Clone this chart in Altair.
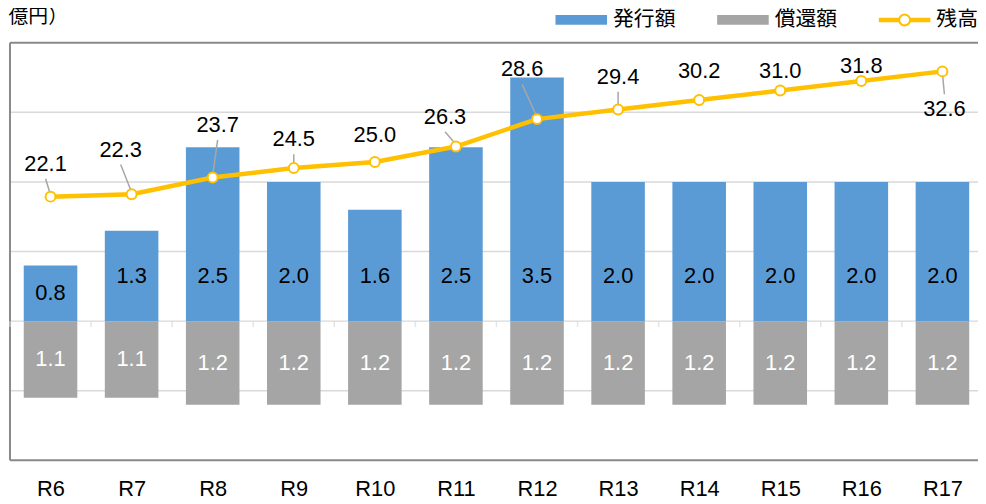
import json
import math
import altair as alt
import pandas as pd

# ---- data ----
categories = ["R6", "R7", "R8", "R9", "R10", "R11", "R12", "R13", "R14", "R15", "R16", "R17"]
issue = [0.8, 1.3, 2.5, 2.0, 1.6, 2.5, 3.5, 2.0, 2.0, 2.0, 2.0, 2.0]        # 発行額
redeem = [1.1, 1.1, 1.2, 1.2, 1.2, 1.2, 1.2, 1.2, 1.2, 1.2, 1.2, 1.2]       # 償還額
balance = [22.1, 22.3, 23.7, 24.5, 25.0, 26.3, 28.6, 29.4, 30.2, 31.0, 31.8, 32.6]  # 残高
series = ["発行額", "償還額", "残高"]
unit_label = "億円）"
grid_values = [-1, 0, 1, 2, 3]
frame_values = [-2, 4]

# ---- styling / layout (not data) ----
BLUE, GREY, GOLD = "#5b9bd5", "#a5a5a5", "#ffc000"
NUM_FONT = "Liberation Sans"
JP_FONT = "Noto Sans CJK JP"
W, H = 976, 421
STEP = 981 / len(categories)       # category step; the plot runs past the right edge as in the reference
PX_PER_UNIT_R = H / 35.0
label_dx = [-5, -11, 5, 0, 0, -11, -15, 0, 0, 0, 0, 2]
label_dy = [-33, -45, -53, -29, -27, -30, -50, -33, -29, -20, -15, 38]
leader = [1, 1, 1, 1, 0, 1, 1, 1, 0, 0, 0, 1]

df = pd.DataFrame({
    "cat": categories,
    "idx": list(range(len(categories))),
    "issue": issue,
    "redeem": redeem,
    "balance": balance,
    "ldx": label_dx,
    "ldy": label_dy,
    "leader": leader,
})

xscale = alt.Scale(domain=[-0.5, -0.5 + W / STEP], nice=False, zero=False, padding=0)
yL = alt.Scale(domain=[-2, 4], nice=False, zero=False, padding=0)
yR = alt.Scale(domain=[0, 35], nice=False, zero=False, padding=0)

label_expr = "[" + ",".join(json.dumps(c) for c in categories) + "][datum.value]"
x_axis_main = alt.Axis(values=list(range(len(categories))), labelExpr=label_expr, ticks=False,
                       domain=False, grid=False, title=None, labelFont=NUM_FONT,
                       labelFontSize=22, labelColor="#000000", labelPadding=18, labelFlush=False,
                       labelOverlap=False)
# the unit caption sits at the top-left, as the (horizontal) title of the left value axis
y_axis_unit = alt.Axis(title=unit_label, titleAngle=0, titleX=-2, titleY=-26, titleAlign="left",
                       titleBaseline="middle", titleFont=JP_FONT, titleFontSize=20,
                       titleFontWeight="normal", titleColor="#000000",
                       labels=False, ticks=False, domain=False, grid=False)


def xq(field):
    # every layer carries the same x-axis definition so the shared axis merges cleanly
    return alt.X(field, type="quantitative", scale=xscale, axis=x_axis_main)


X = xq("idx")
base = alt.Chart(df)

# frame and grid lines
grid = alt.Chart(pd.DataFrame({"g": grid_values})).mark_rule(color="#d9d9d9", strokeWidth=1.5).encode(
    y=alt.Y("g:Q", scale=yL, axis=y_axis_unit)
)
frame_h = alt.Chart(pd.DataFrame({"g": frame_values})).mark_rule(color="#898989", strokeWidth=2).encode(
    y=alt.Y("g:Q", scale=yL, axis=None)
)
frame_v = alt.Chart(pd.DataFrame({"y0": [frame_values[0]], "y1": [frame_values[1]], "x0": [-0.5]})).mark_rule(
    color="#898989", strokeWidth=2
).encode(x=xq("x0"), y=alt.Y("y0:Q", scale=yL, axis=None), y2="y1:Q")

blue = base.mark_bar(size=54, color=BLUE).encode(x=X, y=alt.Y("issue:Q", scale=yL, axis=None))
grey = base.transform_calculate(neg="-datum.redeem").mark_bar(size=54, color=GREY).encode(
    x=X, y=alt.Y("neg:Q", scale=yL, axis=None)
)
zero_ticks = base.transform_calculate(tx="datum.idx - 0.5", z="0").mark_tick(
    orient="vertical", size=6, thickness=1.5, color="#d9d9d9", yOffset=3
).encode(x=xq("tx"), y=alt.Y("z:Q", scale=yL, axis=None))
blue_txt = base.transform_calculate(ty="min(datum.issue / 2, 0.65)").mark_text(
    font=NUM_FONT, fontSize=22, color="#000000", baseline="middle"
).encode(x=X, y=alt.Y("ty:Q", scale=yL, axis=None), text=alt.Text("issue:Q", format=".1f"))
grey_txt = base.transform_calculate(ty="-datum.redeem / 2").mark_text(
    font=NUM_FONT, fontSize=22, color="#ffffff", baseline="middle"
).encode(x=X, y=alt.Y("ty:Q", scale=yL, axis=None), text=alt.Text("redeem:Q", format=".1f"))

lab = base.transform_calculate(
    lx=f"datum.idx + datum.ldx / {STEP}",
    ly=f"datum.balance - datum.ldy / {PX_PER_UNIT_R}",
)
line = base.mark_line(color=GOLD, strokeWidth=4.5).encode(x=X, y=alt.Y("balance:Q", scale=yR, axis=None))
pts = base.mark_point(shape="circle", filled=True, fill="#ffffff", stroke=GOLD, strokeWidth=2,
                      size=100, opacity=1).encode(x=X, y=alt.Y("balance:Q", scale=yR, axis=None))
leaders = lab.transform_filter("datum.leader == 1").transform_calculate(
    y_lab=f"datum.ldy < 0 ? datum.ly - {15 / PX_PER_UNIT_R} : datum.ly + {15 / PX_PER_UNIT_R}",
    y_pt=f"datum.ldy < 0 ? datum.balance + {2 / PX_PER_UNIT_R} : datum.balance - {2 / PX_PER_UNIT_R}",
).mark_rule(color="#a6a6a6", strokeWidth=1.5).encode(
    x=xq("lx"), x2="idx:Q",
    y=alt.Y("y_lab:Q", scale=yR, axis=None), y2="y_pt:Q",
)
line_txt = lab.mark_text(font=NUM_FONT, fontSize=22, color="#000000", baseline="middle").encode(
    x=xq("lx"), y=alt.Y("ly:Q", scale=yR, axis=None),
    text=alt.Text("balance:Q", format=".1f"),
)

# legend symbols (unit square -1..1 is sqrt(symbolSize) px wide)
def ring(r, ccw=False, n=28):
    p = []
    for k in range(n):
        a = 2 * math.pi * k / n * (-1 if ccw else 1)
        p.append(f"{r * math.cos(a):.4f},{r * math.sin(a):.4f}")
    return "M" + "L".join(p) + "Z"

rect_path = "M-1,-0.19H1V0.19H-1Z"
hw = 0.087
line_path = (f"M-1,-{hw}H-0.23V{hw}H-1Z M0.23,-{hw}H1V{hw}H0.23Z "
             + ring(0.25) + " " + ring(0.17, ccw=True))
legend_layer = alt.Chart(pd.DataFrame({"series": series})).mark_point(filled=True, opacity=0).encode(
    color=alt.Color("series:N", scale=alt.Scale(domain=series, range=[BLUE, GREY, GOLD]),
                    legend=alt.Legend(title=None)),
    shape=alt.Shape("series:N", scale=alt.Scale(domain=series, range=[rect_path, rect_path, line_path]),
                    legend=alt.Legend(title=None)),
)

chart = alt.layer(
    grid, frame_h, frame_v, zero_ticks, blue, grey, blue_txt, grey_txt,
    leaders, line, pts, line_txt, legend_layer,
).resolve_scale(y="independent").properties(
    width=W, height=H,
    background="#ffffff",
    autosize=alt.AutoSizeParams(type="none"),
    padding={"left": 2, "top": 33, "right": 0, "bottom": 42},
).configure_view(stroke=None).configure_legend(
    orient="none", legendX=550, legendY=-49, direction="horizontal", padding=0,
    labelFont=JP_FONT, labelFontSize=21, labelColor="#000000", labelOffset=6,
    columnPadding=42, symbolSize=2704, symbolStrokeWidth=0, symbolOpacity=1,
)

chart.save("out.html", embed_options={"renderer": "svg", "actions": False})
